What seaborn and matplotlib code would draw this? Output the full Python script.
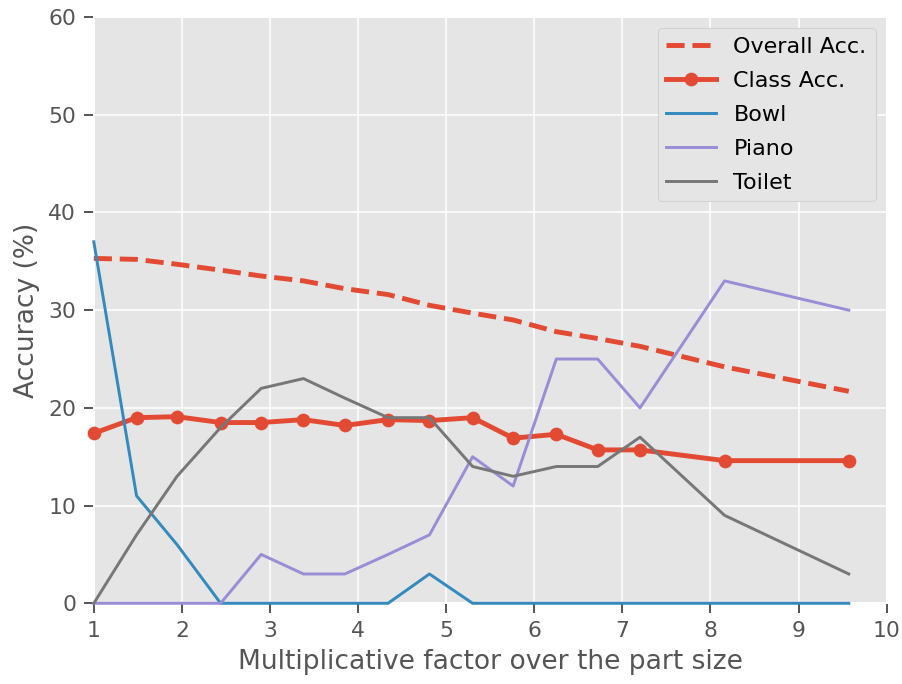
import numpy as np
import pandas as pd
import matplotlib
matplotlib.use('Agg')
import matplotlib.pyplot as plt
import seaborn as sns

# ── Data ──────────────────────────────────────────────────────────────────────
factor = [1.0, 1.485, 1.945, 2.44, 2.9, 3.38, 3.85, 4.34, 4.81, 5.3,
          5.76, 6.25, 6.72, 7.2, 8.16, 9.57]
overall_acc = [35.3, 35.2, 34.7, 34.1, 33.5, 33.0, 32.2, 31.6, 30.5, 29.7,
               29.0, 27.8, 27.1, 26.3, 24.2, 21.7]
class_acc = [17.4, 19.0, 19.1, 18.5, 18.5, 18.8, 18.2, 18.8, 18.7, 19.0,
             16.9, 17.3, 15.7, 15.7, 14.6, 14.6]
bowl = [37, 11, 6, 0, 0, 0, 0, 0, 3, 0, 0, 0, 0, 0, 0, 0]
piano = [0, 0, 0, 0, 5, 3, 3, 5, 7, 15, 12, 25, 25, 20, 33, 30]
toilet = [0, 7, 13, 18, 22, 23, 21, 19, 19, 14, 13, 14, 14, 17, 9, 3]

df = pd.DataFrame({'factor': factor, 'overall': overall_acc, 'class': class_acc,
                   'Bowl': bowl, 'Piano': piano, 'Toilet': toilet})

# ── Plot ──────────────────────────────────────────────────────────────────────
plt.style.use('ggplot')
fig, ax = plt.subplots(figsize=(902 / 141, 684 / 141), dpi=141)

sns.lineplot(data=df, x='factor', y='overall', ax=ax, color='#E24A33',
             linestyle='--', linewidth=2.5, label='Overall Acc.')
sns.lineplot(data=df, x='factor', y='class', ax=ax, color='#E24A33',
             marker='o', markersize=7, markeredgewidth=0, linewidth=2.5,
             label='Class Acc.')
sns.lineplot(data=df, x='factor', y='Bowl', ax=ax, color='#348ABD',
             linewidth=1.5, label='Bowl')
sns.lineplot(data=df, x='factor', y='Piano', ax=ax, color='#988ED5',
             linewidth=1.5, label='Piano')
sns.lineplot(data=df, x='factor', y='Toilet', ax=ax, color='#777777',
             linewidth=1.5, label='Toilet')

# let the zero-valued segments show on the bottom edge
for line in ax.lines:
    line.set_clip_on(False)
    line.set_zorder(3)

ax.set_xlim(1, 10)
ax.set_ylim(0, 60)
ax.set_xticks(range(1, 11))
ax.set_yticks(range(0, 61, 10))
ax.tick_params(axis='both', which='major', direction='out', length=5, width=1,
               color='#555555', labelsize=11.2, labelcolor='#555555', pad=4)
ax.set_xlabel('Multiplicative factor over the part size', fontsize=13.5,
              color='#555555')
ax.set_ylabel('Accuracy (%)', fontsize=13.5, color='#555555')
ax.legend(loc='upper right', facecolor='#E5E5E5', edgecolor='#D0D0D0',
          framealpha=1.0, fontsize=11.4, handlelength=2.2, labelspacing=0.62)

fig.subplots_adjust(left=0.104, right=0.983, top=0.975, bottom=0.118)
plt.savefig('out.png', dpi=141)
